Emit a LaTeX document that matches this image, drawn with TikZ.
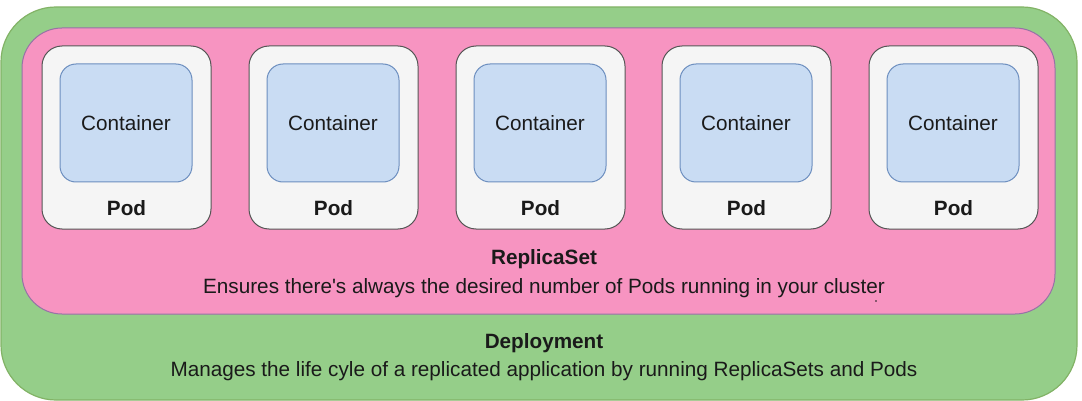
\documentclass[tikz,border=0pt]{standalone}
\usepackage{fontspec}
\setmainfont{Liberation Sans}
\definecolor{greenfill}{HTML}{95CE89}
\definecolor{greenline}{HTML}{82B366}
\definecolor{pinkfill}{HTML}{F794C1}
\definecolor{pinkline}{HTML}{9673A6}
\definecolor{podfill}{HTML}{F5F5F5}
\definecolor{podline}{HTML}{555555}
\definecolor{contfill}{HTML}{C9DCF3}
\definecolor{contline}{HTML}{6C8EBF}
\definecolor{txt}{HTML}{1A1A1A}
\begin{document}
\begin{tikzpicture}[x=1pt,y=-1pt,
  box/.style={draw, anchor=north west, inner sep=0pt, outer sep=0pt},
  deploybox/.style={box, fill=greenfill, draw=greenline, line width=1.2pt, rounded corners=55pt, minimum width=1076pt, minimum height=393pt},
  rsbox/.style={box, fill=pinkfill, draw=pinkline, line width=1pt, rounded corners=40pt, minimum width=1033pt, minimum height=286pt},
  podbox/.style={box, fill=podfill, draw=podline, line width=1pt, rounded corners=20pt, minimum width=169pt, minimum height=183pt},
  contbox/.style={box, fill=contfill, draw=contline, line width=1pt, rounded corners=16pt, minimum width=132pt, minimum height=118pt},
  lbl/.style={text=txt, inner sep=0pt, font=\fontsize{20.7}{25}\selectfont},
  blbl/.style={lbl, font=\fontsize{20.7}{25}\selectfont\bfseries}
]
\useasboundingbox (0,0) rectangle (1082,401);
\node[deploybox] (dep) at (1,7) {};
\node[rsbox] (rs) at (22,28) {};
\foreach \i/\x in {1/42,2/249,3/456,4/662,5/869}{
  \node[podbox] (pod\i) at (\x,46) {};
  \node[contbox] (cont\i) at (\x+18,64) {};
  \node[lbl] (ctext\i) at (\x+84,123) {Container};
  \node[blbl] (ptext\i) at (\x+84.5,208) {Pod};
}
\node[blbl] (rstitle) at (544,259) {ReplicaSet};
\node[lbl] (rsdesc) at (544,288) {Ensures there\textquotesingle s always the desired number of Pods running in your cluster};
\node[blbl] (deptitle) at (544,343) {Deployment};
\node[lbl] (depdesc) at (544,371) {Manages the life cyle of a replicated application by running ReplicaSets and Pods};
\fill[txt] (876,301) circle (0.8pt);
\end{tikzpicture}
\end{document}
